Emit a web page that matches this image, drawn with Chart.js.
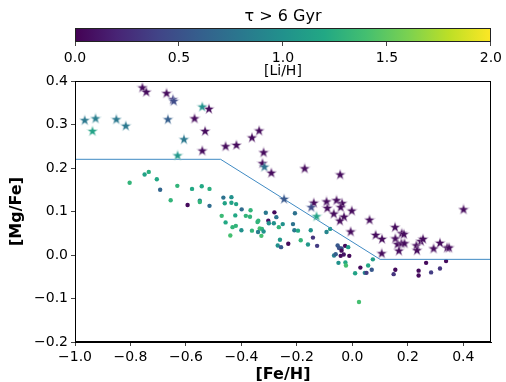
<!DOCTYPE html>
<html>
<head>
<meta charset="utf-8">
<script src="https://cdn.jsdelivr.net/npm/chart.js@4/dist/chart.umd.min.js"></script>
<style>
    body { margin: 0; background: #fff; }
    #wrap { position: relative; width: 506px; height: 382px; }
    canvas { position: absolute; left: 0; top: 0; }
</style>
</head>
<body>
<div id="wrap">
    <canvas id="main" width="506" height="382"></canvas>
    <canvas id="cbar" width="506" height="80"></canvas>
</div>
<script>
// Stars: [Fe/H], [Mg/Fe], [Li/H]
const starFe = [-0.965, -0.937, -0.926, -0.851, -0.817, -0.757, -0.743, -0.670, -0.647, -0.644,
    -0.665, -0.541, -0.517, -0.569, -0.531, -0.607, -0.630, -0.541, -0.457, -0.418,
    -0.362, -0.336, -0.320, -0.324, -0.317, -0.292, -0.172, -0.044, -0.246, -0.139,
    -0.148, -0.093, -0.057, -0.037, -0.090, -0.042, -0.002, -0.067, -0.030, -0.129,
    -0.045, 0.062, -0.006, 0.084, 0.107, 0.106, 0.154, 0.155, 0.178, 0.186,
    0.163, 0.177, 0.188, 0.168, 0.231, 0.233, 0.247, 0.255, 0.293, 0.316,
    0.342, 0.349, 0.401];
const starMg = [0.310, 0.285, 0.314, 0.312, 0.297, 0.385, 0.375, 0.372, 0.358, 0.354,
    0.312, 0.341, 0.336, 0.314, 0.285, 0.266, 0.229, 0.240, 0.250, 0.253,
    0.270, 0.286, 0.236, 0.211, 0.203, 0.189, 0.199, 0.185, 0.129, 0.120,
    0.110, 0.123, 0.126, 0.119, 0.108, 0.110, 0.102, 0.095, 0.088, 0.089,
    0.079, 0.081, 0.054, 0.046, 0.037, 0.004, 0.064, 0.038, 0.050, 0.048,
    0.025, 0.027, 0.027, 0.010, 0.022, 0.011, 0.032, 0.037, 0.015, 0.028,
    0.017, 0.017, 0.105];
const starLi = [0.80, 1.15, 0.85, 0.80, 0.80, 0.05, 0.05, 0.05, 0.35, 0.45,
    0.60, 1.00, 0.05, 0.05, 0.05, 0.80, 1.05, 0.05, 0.05, 0.05,
    0.05, 0.05, 0.05, 0.05, 0.75, 0.05, 0.05, 0.05, 0.55, 0.05,
    0.45, 0.05, 0.05, 0.05, 0.05, 0.05, 0.05, 0.05, 0.05, 1.15,
    0.05, 0.05, 0.05, 0.05, 0.05, 0.05, 0.05, 0.05, 0.05, 0.05,
    0.05, 0.05, 0.05, 0.05, 0.05, 0.05, 0.05, 0.05, 0.05, 0.05,
    0.05, 0.05, 0.05];

// Dots: [Fe/H], [Mg/Fe], [Li/H]
const dotFe = [-0.803, -0.749, -0.734, -0.705, -0.693, -0.655, -0.631, -0.594, -0.578, -0.550,
    -0.550, -0.543, -0.515, -0.515, -0.465, -0.436, -0.460, -0.436, -0.419, -0.399,
    -0.367, -0.471, -0.457, -0.422, -0.384, -0.369, -0.432, -0.420, -0.440, -0.400,
    -0.362, -0.342, -0.339, -0.334, -0.326, -0.340, -0.320, -0.328, -0.312, -0.281,
    -0.274, -0.303, -0.283, -0.301, -0.251, -0.265, -0.261, -0.269, -0.257, -0.231,
    -0.207, -0.214, -0.209, -0.196, -0.186, -0.160, -0.150, -0.142, -0.127, -0.093,
    -0.080, -0.053, -0.048, -0.039, -0.026, -0.015, -0.039, -0.066, -0.060, -0.042,
    -0.031, -0.011, -0.050, -0.025, -0.023, 0.010, 0.029, 0.045, 0.051, 0.057,
    0.070, 0.074, 0.155, 0.149, 0.239, 0.239, 0.266, 0.284, 0.316, 0.338,
    0.024];
const dotMg = [0.166, 0.185, 0.191, 0.174, 0.150, 0.126, 0.159, 0.115, 0.152, 0.125,
    0.122, 0.158, 0.152, 0.113, 0.132, 0.133, 0.119, 0.120, 0.117, 0.105,
    0.103, 0.090, 0.075, 0.091, 0.090, 0.088, 0.064, 0.067, 0.045, 0.057,
    0.056, 0.076, 0.079, 0.061, 0.060, 0.053, 0.054, 0.044, 0.097, 0.098,
    0.087, 0.079, 0.073, 0.073, 0.071, 0.064, 0.035, 0.022, 0.018, 0.026,
    0.096, 0.071, 0.057, 0.056, 0.034, 0.024, 0.057, 0.040, 0.021, 0.053,
    0.060, 0.022, 0.016, 0.015, 0.021, 0.018, 0.010, -0.001, 0.002, -0.002,
    0.001, -0.002, -0.018, -0.017, -0.024, -0.042, -0.029, -0.041, -0.041, -0.024,
    -0.034, -0.010, -0.034, -0.044, -0.036, -0.047, -0.018, -0.040, -0.031, -0.014,
    -0.108];
const dotLi = [1.30, 1.15, 1.25, 1.20, 0.65, 1.30, 1.30, 0.05, 1.20, 0.90,
    1.30, 1.20, 1.25, 0.70, 0.75, 1.00, 1.15, 1.15, 1.15, 0.70,
    1.30, 1.35, 1.20, 1.20, 1.30, 1.30, 1.30, 1.30, 1.40, 1.00,
    1.30, 1.30, 1.30, 1.40, 1.30, 0.85, 1.00, 1.40, 0.80, 0.05,
    0.75, 0.10, 1.00, 1.00, 1.00, 1.30, 1.05, 1.00, 0.55, 0.05,
    0.75, 0.75, 0.80, 1.20, 1.30, 1.05, 1.00, 0.30, 0.35, 0.90,
    1.10, 0.55, 0.50, 0.50, 0.05, 1.10, 0.05, 0.85, 0.60, 0.05,
    0.10, 0.05, 1.00, 1.20, 1.40, 1.15, 0.05, 0.90, 0.35, 1.20,
    0.55, 1.10, 0.05, 0.30, 0.05, 0.05, 0.05, 0.35, 0.30, 0.05,
    1.40];

// Dividing line
const lineFe = [-1.0, -0.475, 0.1, 0.5];
const lineMg = [0.22, 0.22, -0.01, -0.01];

// Tick labels
const xTicks = [-1.0, -0.8, -0.6, -0.4, -0.2, 0.0, 0.2, 0.4];
const yTicks = [-0.2, -0.1, 0.0, 0.1, 0.2, 0.3, 0.4];
const cbTicks = [0.0, 0.5, 1.0, 1.5, 2.0];
const liMin = 0, liMax = 2;

const FONT = "'DejaVu Sans', sans-serif";

// viridis colormap
const viridisStops = ['#440154', '#482475', '#414487', '#355f8d', '#2a788e',
    '#21918c', '#22a884', '#44bf70', '#7ad151', '#bddf26', '#fde725'];

function hexToRgb(h) {
    return [parseInt(h.slice(1, 3), 16), parseInt(h.slice(3, 5), 16), parseInt(h.slice(5, 7), 16)];
}

function viridis(t) {
    t = Math.max(0, Math.min(1, t));
    const n = viridisStops.length - 1;
    const i = Math.min(Math.floor(t * n), n - 1);
    const f = t * n - i;
    const a = hexToRgb(viridisStops[i]);
    const b = hexToRgb(viridisStops[i + 1]);
    const c = a.map((v, k) => Math.round(v + (b[k] - v) * f));
    return `rgb(${c[0]}, ${c[1]}, ${c[2]})`;
}

function liColor(li) {
    return viridis((li - liMin) / (liMax - liMin));
}

function minus(v) {
    return v.toFixed(1).replace('-', '\u2212');
}

// filled star marker, cached per colour
const starCache = {};
function starImage(color) {
    if (starCache[color]) return starCache[color];
    const c = document.createElement('canvas');
    c.width = 12;
    c.height = 12;
    const g = c.getContext('2d');
    g.beginPath();
    for (let i = 0; i < 10; i++) {
        const r = i % 2 === 0 ? 4.4 : 1.8;
        const a = -Math.PI / 2 + i * Math.PI / 5;
        g.lineTo(6 + r * Math.cos(a), 6.3 + r * Math.sin(a));
    }
    g.closePath();
    const rgb = color.match(/\d+/g).map(Number);
    g.strokeStyle = `rgba(${rgb.map(v => Math.round(v + (255 - v) * 0.5)).join(',')}, 0.85)`;
    g.lineWidth = 1.1;
    g.stroke();
    g.fillStyle = color;
    g.fill();
    starCache[color] = c;
    return c;
}

// frame around the plot area
const framePlugin = {
    id: 'frame',
    afterDraw(chart) {
        const { ctx, chartArea: a } = chart;
        ctx.save();
        ctx.strokeStyle = '#000';
        ctx.lineWidth = 1;
        ctx.strokeRect(Math.round(a.left) + 0.5, Math.round(a.top) + 0.5,
            Math.round(a.right - a.left) - 1, Math.round(a.bottom - a.top) - 1);
        ctx.restore();
    }
};

// main scatter chart
new Chart(document.getElementById('main'), {
    type: 'scatter',
    data: {
        datasets: [
            {
                label: 'stars',
                order: 0,
                data: starFe.map((x, i) => ({ x: x, y: starMg[i] })),
                pointStyle: ctx => starImage(liColor(starLi[ctx.dataIndex])),
                pointRadius: 4
            },
            {
                label: 'line',
                order: 1,
                data: lineFe.map((x, i) => ({ x: x, y: lineMg[i] })),
                showLine: true,
                borderColor: '#3f8ac3',
                borderWidth: 1,
                pointRadius: 0,
                tension: 0
            },
            {
                label: 'dots',
                order: 2,
                data: dotFe.map((x, i) => ({ x: x, y: dotMg[i] })),
                backgroundColor: dotLi.map(liColor),
                borderWidth: 0,
                pointRadius: 2.2
            }
        ]
    },
    options: {
        responsive: false,
        animation: false,
        layout: { padding: { top: 81, right: 15, left: 0, bottom: 0 } },
        plugins: { legend: { display: false }, tooltip: { enabled: false } },
        scales: {
            x: {
                type: 'linear',
                min: -1.0,
                max: 0.5,
                afterFit: s => { s.height = 40; },
                afterBuildTicks: s => { s.ticks = xTicks.map(v => ({ value: v })); },
                ticks: { color: '#000', font: { family: FONT, size: 14 }, padding: 3, callback: v => minus(v) },
                grid: { drawOnChartArea: false, drawTicks: true, tickLength: 4, color: '#444' },
                border: { display: true, color: '#000' },
                title: { display: true, text: '[Fe/H]', color: '#000', font: { family: FONT, size: 16, weight: 'bold' }, padding: { top: 0, bottom: -2.5 } }
            },
            y: {
                type: 'linear',
                min: -0.2,
                max: 0.4,
                afterFit: s => { s.width = 75; },
                afterBuildTicks: s => { s.ticks = yTicks.map(v => ({ value: v })); },
                ticks: { color: '#000', font: { family: FONT, size: 14 }, padding: 3, callback: v => minus(v) },
                grid: { drawOnChartArea: false, drawTicks: true, tickLength: 4, color: '#444' },
                border: { display: true, color: '#000' },
                title: { display: true, text: '[Mg/Fe]', color: '#000', font: { family: FONT, size: 16, weight: 'bold' }, padding: { top: 7, bottom: 0 } }
            }
        }
    },
    plugins: [framePlugin]
});

// colour bar
const gradientPlugin = {
    id: 'gradient',
    beforeDatasetsDraw(chart) {
        const { ctx, chartArea: a } = chart;
        const g = ctx.createLinearGradient(a.left, 0, a.right, 0);
        viridisStops.forEach((c, i) => g.addColorStop(i / (viridisStops.length - 1), c));
        ctx.save();
        ctx.fillStyle = g;
        ctx.fillRect(a.left, a.top, a.right - a.left, a.bottom - a.top);
        ctx.strokeStyle = '#222';
        ctx.lineWidth = 1;
        ctx.strokeRect(Math.round(a.left) + 0.5, Math.round(a.top) + 0.5,
            Math.round(a.right - a.left) - 1, Math.round(a.bottom - a.top) - 1);
        ctx.restore();
    }
};

new Chart(document.getElementById('cbar'), {
    type: 'scatter',
    data: { datasets: [{ data: [] }] },
    options: {
        responsive: false,
        animation: false,
        layout: { padding: { top: 0, right: 15, left: 75, bottom: 0 } },
        plugins: {
            legend: { display: false },
            tooltip: { enabled: false },
            title: {
                display: true,
                text: '\u03c4 > 6 Gyr',
                color: '#000',
                font: { family: FONT, size: 16, weight: 'normal' },
                padding: { top: 7, bottom: 2 }
            }
        },
        scales: {
            x: {
                type: 'linear',
                min: liMin,
                max: liMax,
                afterFit: s => { s.height = 38; },
                afterBuildTicks: s => { s.ticks = cbTicks.map(v => ({ value: v })); },
                ticks: { color: '#000', font: { family: FONT, size: 14 }, padding: 4, callback: v => v.toFixed(1) },
                grid: { drawOnChartArea: false, drawTicks: true, tickLength: 4, color: '#444' },
                border: { display: false },
                title: { display: true, text: '[Li/H]', color: '#000', font: { family: FONT, size: 14 }, padding: { top: 0, bottom: 0 } }
            },
            y: { display: false, min: 0, max: 1 }
        }
    },
    plugins: [gradientPlugin]
});
</script>
</body>
</html>
